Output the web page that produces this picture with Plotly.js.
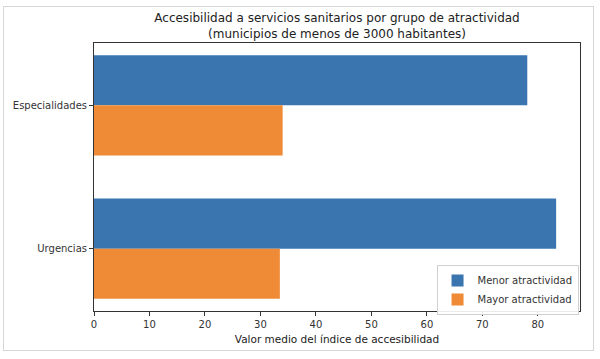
<!DOCTYPE html>
<html>
<head>
<meta charset="utf-8">
<script src="https://cdn.plot.ly/plotly-3.0.1.min.js"></script>
<style>
  html, body { margin: 0; padding: 0; background: #ffffff; }
  #wrap { position: relative; width: 600px; height: 359px; }
  #chart { position: absolute; left: 0; top: 0; width: 600px; height: 359px; }
  #frame { position: absolute; left: 3px; top: 6px; width: 589px; height: 343px;
           border: 1px solid #d6d6d6; pointer-events: none; }
</style>
</head>
<body>
<div id="wrap">
  <div id="chart"></div>
  <div id="frame"></div>
</div>
<script>
const categories = ["Especialidades", "Urgencias"];
const seriesNames = ["Menor atractividad", "Mayor atractividad"];
const menorValues = [78.1, 83.3];
const mayorValues = [34.0, 33.5];

const font = "DejaVu Sans, sans-serif";
const textColor = "#333333";

const traces = [
  {
    type: "bar", orientation: "h", name: seriesNames[0],
    y: categories, x: menorValues,
    width: 0.35, offset: 0,
    marker: { color: "#3a75b0" }
  },
  {
    type: "bar", orientation: "h", name: seriesNames[1],
    y: categories, x: mayorValues,
    width: 0.35, offset: -0.35,
    marker: { color: "#ef8a36" }
  }
];

const layout = {
  width: 600, height: 359,
  margin: { l: 94, r: 20, t: 43, b: 48 },
  paper_bgcolor: "rgba(0,0,0,0)",
  plot_bgcolor: "#ffffff",
  barmode: "overlay",
  showlegend: true,
  font: { family: font, size: 10, color: textColor },
  title: {
    text: "Accesibilidad a servicios sanitarios por grupo de atractividad<br>(municipios de menos de 3000 habitantes)",
    font: { family: font, size: 12, color: "#222222" },
    x: 0.5617, xanchor: "center", y: 0.938, yanchor: "top"
  },
  xaxis: {
    range: [0, 87.6],
    tickmode: "linear", tick0: 0, dtick: 10,
    ticks: "outside", ticklen: 4, tickcolor: "#333",
    showgrid: false, zeroline: false,
    showline: true, mirror: true, linecolor: "#333", linewidth: 1,
    tickfont: { family: font, size: 10, color: textColor },
    title: { text: "Valor medio del índice de accesibilidad", font: { family: font, size: 10.5, color: "#222" }, standoff: 6 }
  },
  yaxis: {
    type: "category",
    categoryorder: "array",
    categoryarray: categories.slice().reverse(),
    range: [-0.435, 1.435],
    ticks: "outside", ticklen: 4, tickcolor: "#333",
    showgrid: false, zeroline: false,
    showline: true, mirror: true, linecolor: "#333", linewidth: 1,
    tickfont: { family: font, size: 10, color: textColor }
  },
  legend: {
    x: 0.997, y: -0.015, xanchor: "right", yanchor: "bottom",
    bgcolor: "rgba(255,255,255,0.9)", bordercolor: "#d0d0d0", borderwidth: 1,
    font: { family: font, size: 10, color: textColor },
    traceorder: "normal", itemwidth: 30, tracegroupgap: 0
  }
};

Plotly.newPlot("chart", traces, layout, { staticPlot: true, displayModeBar: false });
</script>
</body>
</html>
